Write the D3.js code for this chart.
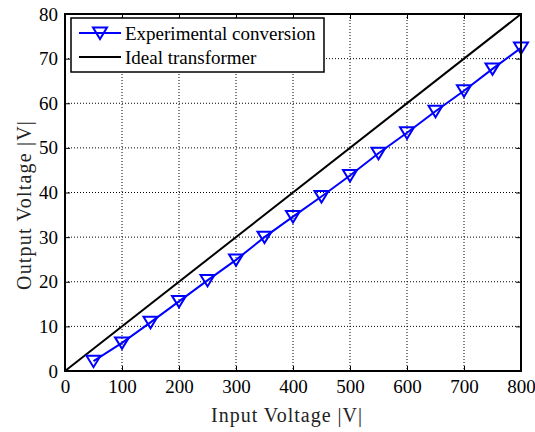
<!DOCTYPE html>
<html>
<head>
<meta charset="utf-8">
<script src="https://cdn.jsdelivr.net/npm/d3@7"></script>
<style>
  body { margin: 0; background: #fff; }
</style>
</head>
<body>
<div id="chart"></div>
<script>
const inputVoltage = [50, 100, 150, 200, 250, 300, 350, 400, 450, 500, 550, 600, 650, 700, 750, 800];
const outputVoltage = [2.2, 6.3, 10.9, 15.6, 20.3, 24.9, 30.0, 34.6, 39.1, 43.8, 48.8, 53.4, 58.2, 62.8, 67.7, 72.4];
const idealIn = [0, 800];
const idealOut = [0, 80];
const xTicks = [0, 100, 200, 300, 400, 500, 600, 700, 800];
const yTicks = [0, 10, 20, 30, 40, 50, 60, 70, 80];
const seriesNames = ["Experimental conversion", "Ideal transformer"];

const FONT = "Liberation Serif, Times New Roman, Times, DejaVu Serif, serif";

const W = 535, H = 432;
const margin = { top: 14, right: 14, bottom: 61, left: 65 },
      width = W - margin.left - margin.right,
      height = H - margin.top - margin.bottom;

const svg = d3.select("#chart")
  .append("svg")
  .attr("width", W)
  .attr("height", H)
  .attr("font-family", FONT);

const g = svg.append("g")
  .attr("transform", `translate(${margin.left},${margin.top})`);

const x = d3.scaleLinear().domain([0, 800]).range([0, width]);
const y = d3.scaleLinear().domain([0, 80]).range([height, 0]);

// grid
g.selectAll(".vgrid")
  .data(xTicks.slice(1, -1))
  .enter().append("line")
  .attr("x1", d => x(d)).attr("x2", d => x(d))
  .attr("y1", 0).attr("y2", height)
  .attr("stroke", "#000").attr("stroke-width", 1)
  .attr("stroke-dasharray", "1,2");

g.selectAll(".hgrid")
  .data(yTicks.slice(1, -1))
  .enter().append("line")
  .attr("y1", d => y(d)).attr("y2", d => y(d))
  .attr("x1", 0).attr("x2", width)
  .attr("stroke", "#000").attr("stroke-width", 1)
  .attr("stroke-dasharray", "1,2");

// axes (ticks inward, box)
const tickLen = 5;
const noDomain = a => a.attr("font-family", FONT).select(".domain").remove();
g.append("g")
  .attr("transform", `translate(0,${height})`)
  .call(d3.axisBottom(x).tickValues(xTicks).tickSizeInner(-tickLen).tickSizeOuter(0).tickPadding(9))
  .call(noDomain);
g.append("g")
  .call(d3.axisTop(x).tickValues(xTicks).tickSizeInner(-tickLen).tickSizeOuter(0).tickFormat(""))
  .call(noDomain);
g.append("g")
  .call(d3.axisLeft(y).tickValues(yTicks).tickSizeInner(-tickLen).tickSizeOuter(0).tickPadding(7))
  .call(noDomain);
g.append("g")
  .attr("transform", `translate(${width},0)`)
  .call(d3.axisRight(y).tickValues(yTicks).tickSizeInner(-tickLen).tickSizeOuter(0).tickFormat(""))
  .call(noDomain);

g.selectAll(".tick line").attr("stroke", "#000").attr("stroke-width", 1);
g.selectAll(".tick text")
  .attr("fill", "#000")
  .attr("font-size", 19);

// ideal line
const line = d3.line().x(d => x(d[0])).y(d => y(d[1]));
g.append("path")
  .datum(idealIn.map((v, i) => [v, idealOut[i]]))
  .attr("d", line)
  .attr("fill", "none")
  .attr("stroke", "#000")
  .attr("stroke-width", 2);

// experimental
const expData = inputVoltage.map((v, i) => [v, outputVoltage[i]]);
g.append("path")
  .datum(expData)
  .attr("d", line)
  .attr("fill", "none")
  .attr("stroke", "#0000ff")
  .attr("stroke-width", 2);

const tri = "M-7,-5.5 L7,-5.5 L0,6 Z";
g.selectAll(".mk")
  .data(expData)
  .enter().append("path")
  .attr("transform", d => `translate(${x(d[0])},${y(d[1])})`)
  .attr("d", tri)
  .attr("fill", "none")
  .attr("stroke", "#0000ff")
  .attr("stroke-width", 2);

// box
g.append("rect")
  .attr("width", width).attr("height", height)
  .attr("fill", "none").attr("stroke", "#000").attr("stroke-width", 2);

// legend
const lg = svg.append("g");
lg.append("rect")
  .attr("x", 71).attr("y", 18).attr("width", 253).attr("height", 54)
  .attr("fill", "#fff").attr("stroke", "#000").attr("stroke-width", 1.5);
const legY = [33, 57];
lg.append("line").attr("x1", 79).attr("x2", 121).attr("y1", legY[0]).attr("y2", legY[0])
  .attr("stroke", "#0000ff").attr("stroke-width", 2);
lg.append("path").attr("transform", `translate(100,${legY[0]})`).attr("d", tri)
  .attr("fill", "none").attr("stroke", "#0000ff").attr("stroke-width", 2);
lg.append("line").attr("x1", 79).attr("x2", 121).attr("y1", legY[1]).attr("y2", legY[1])
  .attr("stroke", "#000").attr("stroke-width", 2);
lg.selectAll(".lt")
  .data(seriesNames)
  .enter().append("text")
  .attr("x", 125)
  .attr("y", (d, i) => legY[i])
  .attr("dy", "0.35em")
  .attr("font-size", 19)
  .attr("fill", "#000")
  .text(d => d);

// axis titles
svg.append("text")
  .attr("x", 287)
  .attr("y", 422)
  .attr("text-anchor", "middle")
  .attr("font-size", 20)
  .attr("letter-spacing", 1)
  .attr("fill", "#222")
  .text("Input Voltage |V|");

svg.append("text")
  .attr("transform", `translate(31,205) rotate(-90)`)
  .attr("text-anchor", "middle")
  .attr("font-size", 20)
  .attr("letter-spacing", 1.2)
  .attr("fill", "#222")
  .text("Output Voltage |V|");
</script>
</body>
</html>
